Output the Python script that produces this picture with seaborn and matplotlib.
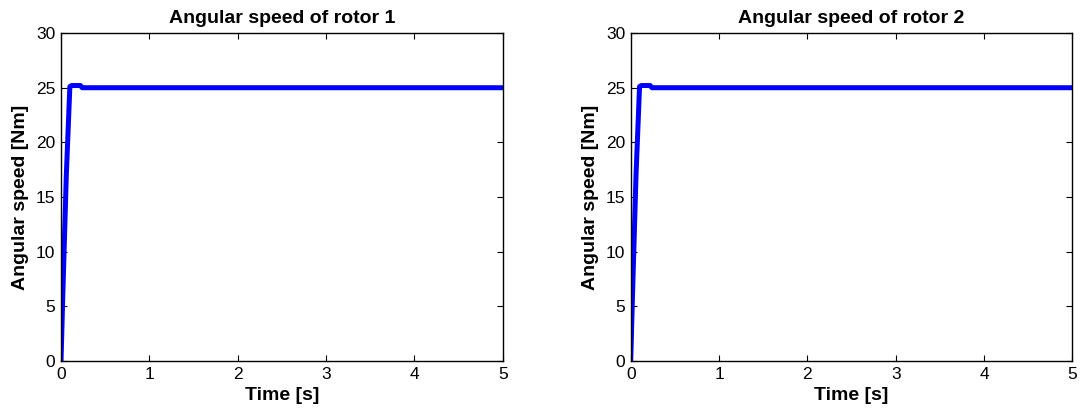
import pandas as pd
import matplotlib
matplotlib.use("Agg")
import matplotlib.pyplot as plt
import seaborn as sns

# =====================================
# Data
# =====================================
time_r1 = [0.0, 0.02, 0.06, 0.10, 0.12, 0.22, 0.24, 0.30, 5.0]
speed_r1 = [0.0, 6.0, 17.0, 25.1, 25.2, 25.2, 25.0, 25.0, 25.0]

time_r2 = [0.0, 0.02, 0.06, 0.10, 0.12, 0.22, 0.24, 0.30, 5.0]
speed_r2 = [0.0, 6.0, 17.0, 25.1, 25.2, 25.2, 25.0, 25.0, 25.0]

titles = ["Angular speed of rotor 1", "Angular speed of rotor 2"]
x_ticks = [0, 1, 2, 3, 4, 5]
y_ticks = [0, 5, 10, 15, 20, 25, 30]

# =====================================
# Style
# =====================================
sns.set_style("ticks")
plt.rcParams["font.family"] = ["Liberation Sans", "DejaVu Sans"]
plt.rcParams["xtick.direction"] = "in"
plt.rcParams["ytick.direction"] = "in"
plt.rcParams["text.color"] = "black"
plt.rcParams["axes.labelcolor"] = "black"
plt.rcParams["xtick.color"] = "black"
plt.rcParams["ytick.color"] = "black"


def draw_panel(ax, t, w, title):
    df = pd.DataFrame({"t": t, "w": w})
    sns.lineplot(data=df, x="t", y="w", ax=ax, color="#0000ff",
                 linewidth=3.6, sort=False, estimator=None)
    ax.set_xlim(0, 5)
    ax.set_ylim(0, 30)
    ax.set_xticks(x_ticks)
    ax.set_yticks(y_ticks)
    ax.tick_params(labelsize=12.5, length=4, width=0.8,
                   top=True, right=True, pad=4)
    for s in ax.spines.values():
        s.set_visible(True)
        s.set_color("black")
        s.set_linewidth(1.0)
    ax.set_title(title, fontsize=14, fontweight="bold", pad=7)
    ax.set_xlabel("Time [s]", fontsize=14, fontweight="bold", labelpad=4)
    ax.set_ylabel("Angular speed [Nm]", fontsize=14, fontweight="bold", labelpad=5)


def main():
    fig = plt.figure(figsize=(10.8, 4.08), dpi=100)
    ax1 = fig.add_axes([0.0565, 0.115, 0.409, 0.804])
    ax2 = fig.add_axes([0.584, 0.115, 0.409, 0.804])
    draw_panel(ax1, time_r1, speed_r1, titles[0])
    draw_panel(ax2, time_r2, speed_r2, titles[1])
    fig.savefig("out.png", dpi=100)
    plt.close(fig)


if __name__ == "__main__":
    main()
